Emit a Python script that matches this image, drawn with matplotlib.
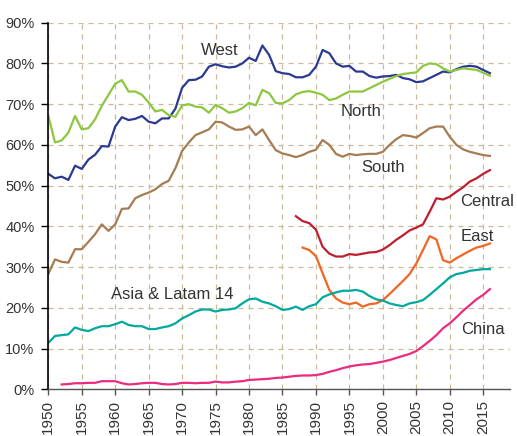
import numpy as np
from matplotlib import pyplot as plt

plt.rcParams['font.family'] = ['Liberation Sans', 'DejaVu Sans']

years = list(range(1950, 2017))

west = [52.9, 51.8, 52.2, 51.4, 54.9, 54.1, 56.4, 57.6, 59.7, 59.6,
        64.5, 66.8, 66.1, 66.4, 67.1, 65.7, 65.3, 66.5, 66.5, 68.9,
        74.0, 75.9, 76.0, 76.8, 79.2, 79.8, 79.3, 79.0, 79.2, 80.0,
        81.4, 80.6, 84.4, 82.1, 78.1, 77.6, 77.4, 76.6, 76.6, 77.2,
        79.2, 83.3, 82.5, 80.0, 79.2, 79.4, 78.0, 78.0, 76.9, 76.5,
        76.8, 76.9, 77.2, 76.4, 76.1, 75.4, 75.6, 76.4, 77.2, 78.0,
        77.8, 78.6, 79.2, 79.4, 79.2, 78.4, 77.6]

north = [67.2, 60.6, 61.1, 63.0, 67.1, 63.8, 64.1, 66.3, 69.6, 72.3,
         75.0, 75.9, 73.1, 73.1, 72.3, 70.4, 68.2, 68.6, 67.3, 66.9,
         69.7, 70.0, 69.4, 69.2, 67.9, 69.8, 69.0, 67.9, 68.2, 69.0,
         70.3, 69.7, 73.5, 72.7, 70.3, 70.2, 71.0, 72.4, 73.0, 73.2,
         72.8, 72.3, 71.0, 71.4, 72.3, 73.1, 73.1, 73.1, 73.9, 74.7,
         75.5, 76.2, 76.9, 77.4, 77.6, 77.8, 79.4, 80.0, 79.8, 78.8,
         78.0, 78.4, 78.8, 78.6, 78.4, 77.7, 77.0]

south = [28.3, 31.9, 31.3, 31.1, 34.4, 34.4, 36.2, 38.1, 40.5, 38.9,
         40.5, 44.3, 44.4, 46.9, 47.7, 48.3, 49.1, 50.4, 51.2, 54.3,
         58.5, 60.6, 62.4, 63.1, 63.8, 65.7, 65.5, 64.5, 63.7, 63.8,
         64.5, 62.4, 63.8, 61.2, 58.7, 57.9, 57.5, 57.0, 57.5, 58.3,
         58.8, 61.2, 60.0, 57.8, 57.1, 57.8, 57.5, 57.7, 57.8, 57.8,
         58.3, 60.0, 61.4, 62.4, 62.2, 61.8, 62.9, 64.1, 64.5, 64.5,
         62.0, 60.0, 58.9, 58.3, 57.9, 57.5, 57.3]

asia = [11.4, 13.1, 13.3, 13.5, 15.2, 14.6, 14.3, 15.0, 15.5, 15.5,
        16.0, 16.6, 15.8, 15.5, 15.5, 14.8, 14.8, 15.2, 15.5, 16.2,
        17.4, 18.2, 19.1, 19.6, 19.6, 19.1, 19.5, 19.6, 19.9, 21.1,
        22.1, 22.3, 21.5, 21.1, 20.4, 19.5, 19.7, 20.3, 19.5, 20.4,
        20.9, 22.6, 23.3, 23.8, 24.2, 24.2, 24.4, 24.0, 22.9, 22.1,
        21.8, 21.1, 20.7, 20.4, 21.1, 21.4, 21.9, 23.2, 24.6, 26.0,
        27.5, 28.3, 28.6, 29.1, 29.3, 29.5, 29.5]

central_years = list(range(1987, 2017))
central = [42.5, 41.3, 40.8, 39.2, 35.0, 33.3, 32.6, 32.6, 33.2, 33.0,
           33.3, 33.6, 33.7, 34.3, 35.4, 36.7, 37.8, 39.0, 39.7, 40.5,
           43.6, 46.9, 46.6, 47.3, 48.5, 49.6, 51.0, 51.8, 52.9, 53.8]

east_years = list(range(1988, 2017))
east = [34.8, 34.2, 32.7, 28.5, 24.4, 22.3, 21.3, 20.9, 21.3, 20.3,
        20.9, 21.1, 21.9, 23.4, 25.0, 26.6, 28.3, 30.9, 34.2, 37.6,
        36.8, 31.7, 31.1, 32.2, 33.1, 34.0, 34.8, 35.2, 35.8]

china_years = list(range(1952, 2017))
china = [1.2, 1.3, 1.5, 1.5, 1.6, 1.6, 2.0, 2.0,
         2.0, 1.5, 1.2, 1.3, 1.5, 1.6, 1.6, 1.3, 1.2, 1.3,
         1.6, 1.6, 1.5, 1.6, 1.6, 1.9, 1.7, 1.7, 1.9, 2.0,
         2.3, 2.4, 2.5, 2.6, 2.8, 2.9, 3.1, 3.3, 3.4, 3.4,
         3.5, 3.8, 4.3, 4.7, 5.2, 5.6, 5.9, 6.1, 6.2, 6.5,
         6.8, 7.2, 7.7, 8.2, 8.7, 9.4, 10.6, 11.9, 13.3, 15.0,
         16.2, 17.7, 19.3, 20.7, 22.1, 23.2, 24.6]

xticks = list(range(1950, 2016, 5))
yticks = list(range(0, 91, 10))

fig = plt.figure(figsize=(5.17, 4.36), dpi=100)
ax = fig.add_axes([0.0934, 0.107, 0.893, 0.841])

lw = 1.6
ax.plot(years, west, color='#2b3990', lw=lw)
ax.plot(years, north, color='#8dc63f', lw=lw)
ax.plot(years, south, color='#a67c52', lw=lw)
ax.plot(central_years, central, color='#be1e2d', lw=lw)
ax.plot(east_years, east, color='#f26522', lw=lw)
ax.plot(years, asia, color='#00a99d', lw=lw)
ax.plot(china_years, china, color='#ec2a7f', lw=lw)

fs = 12
txt = dict(color='#333333', fontsize=fs, ha='center', va='center')
ax.text(1975.6, 83.2, 'West', **txt)
ax.text(1996.8, 68.2, 'North', **txt)
ax.text(2000.0, 54.5, 'South', **txt)
ax.text(2011.6, 46.1, 'Central', color='#333333', fontsize=fs, ha='left', va='center')
ax.text(2011.7, 37.5, 'East', color='#333333', fontsize=fs, ha='left', va='center')
ax.text(1968.6, 23.2, 'Asia & Latam 14', **txt)
ax.text(2011.7, 14.6, 'China', color='#333333', fontsize=fs, ha='left', va='center')

ax.set_xlim(1950, 2019)
ax.set_ylim(0, 90)
ax.set_xticks(xticks)
ax.set_xticklabels([str(y) for y in xticks], rotation=90)
ax.set_yticks(yticks)
ax.set_yticklabels([f'{v}%' for v in yticks])
ax.grid(True, color='#c9b99b', linestyle=(0, (4, 4)), lw=0.9)
ax.set_axisbelow(True)

for s in ['top', 'right']:
    ax.spines[s].set_visible(False)
ax.spines['left'].set_color('black')
ax.spines['left'].set_linewidth(1.2)
ax.spines['bottom'].set_color('#555555')
ax.spines['bottom'].set_linewidth(1.0)
ax.tick_params(axis='y', length=5, width=1, colors='black', labelcolor='#333333', labelsize=10.5, pad=5)
ax.tick_params(axis='x', length=4, width=1, colors='#555555', labelcolor='#333333', labelsize=11, pad=4)

plt.savefig('out.png', dpi=100)
